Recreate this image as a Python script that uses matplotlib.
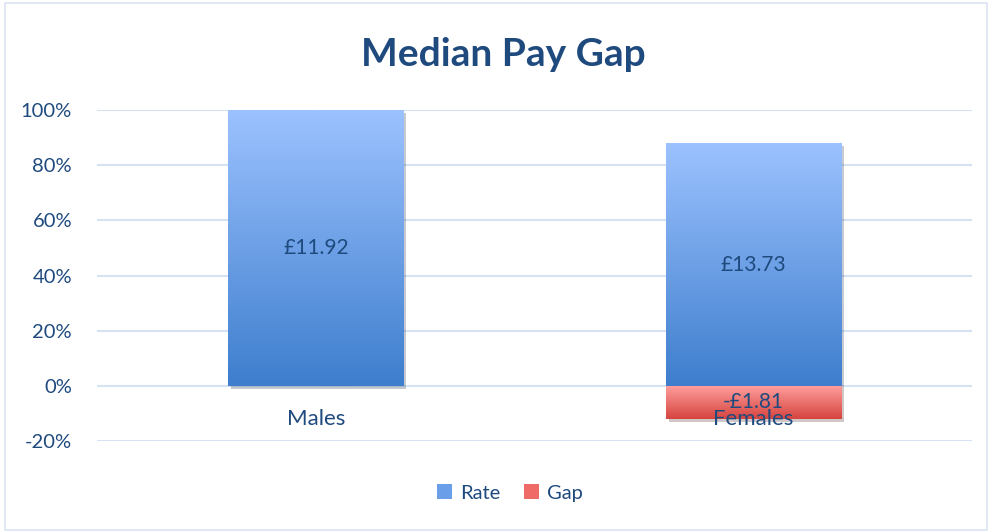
import numpy as np
import matplotlib
matplotlib.use("Agg")
import matplotlib.pyplot as plt
from matplotlib.colors import LinearSegmentedColormap
from matplotlib.patches import Rectangle, Patch
import matplotlib.patheffects as pe

plt.rcParams['font.family'] = ['Lato', 'DejaVu Sans']

# data
categories = ["Males", "Females"]
rate = [100, 88]
gap = [0, -12]
rate_labels = ["£11.92", "£13.73"]
gap_labels = ["", "-£1.81"]
yticks = [-20, 0, 20, 40, 60, 80, 100]

text_col = "#1F4A7E"
grid_col = "#D5E2F4"
blue_cmap = LinearSegmentedColormap.from_list("blue", ["#3E7ECD", "#9CC2FF"])
red_cmap = LinearSegmentedColormap.from_list("red", ["#D6443F", "#FFA09E"])

fig = plt.figure(figsize=(9.9, 5.32), dpi=100)
ax = fig.add_axes([0.098, 0.171, 0.884, 0.622])

x = np.arange(len(categories))
shadow = [pe.SimplePatchShadow(offset=(2, -2), alpha=0.25), pe.Normal()]
rate_bars = ax.bar(x, rate, width=0.4, color="#6A9EE8", zorder=2, path_effects=shadow)
gap_bars = ax.bar(x, gap, width=0.4, color="#EE6B67", zorder=2, path_effects=shadow)


def fill_gradient(bars, cmap):
    # paint a vertical gradient inside each bar (light at top)
    grad = np.linspace(0, 1, 256).reshape(-1, 1)
    for b in bars:
        if b.get_height() == 0:
            continue
        x0, w = b.get_x(), b.get_width()
        y0, h = b.get_y(), b.get_height()
        lo, hi = min(y0, y0 + h), max(y0, y0 + h)
        im = ax.imshow(grad, cmap=cmap, origin="lower", aspect="auto",
                       extent=[x0, x0 + w, lo, hi], zorder=3)
        im.set_clip_path(b)


fill_gradient(rate_bars, blue_cmap)
fill_gradient(gap_bars, red_cmap)

for i in range(len(categories)):
    ax.text(x[i], rate[i] / 2, rate_labels[i], ha="center", va="center",
            fontsize=15, color=text_col, zorder=5)
    if gap_labels[i]:
        ax.text(x[i], gap[i] / 2, gap_labels[i], ha="center", va="center",
                fontsize=15, color=text_col, zorder=5)
    # category labels sit just under the zero line, on top of the bars
    ax.annotate(categories[i], (x[i], 0), xytext=(0, -24), textcoords="offset points",
                ha="center", va="center", fontsize=16, color=text_col,
                zorder=6, annotation_clip=False)

ax.set_xlim(-0.5, 1.5)
ax.set_ylim(-20, 100)
ax.set_yticks(yticks)
ax.set_yticklabels([f"{t}%" for t in yticks])
ax.yaxis.grid(True, color=grid_col, linewidth=1.5, zorder=0)
ax.set_axisbelow(True)
ax.tick_params(axis="y", length=0, pad=18, labelsize=14.5, labelcolor=text_col)
ax.set_xticks([])
for s in ax.spines.values():
    s.set_visible(False)

fig.text(0.508, 0.897, "Median Pay Gap", ha="center", va="center",
         fontsize=28, fontweight="bold", color=text_col)

handles = [Patch(facecolor="#6A9EE8"), Patch(facecolor="#EE6B67")]
fig.legend(handles, ["Rate", "Gap"], loc="center", bbox_to_anchor=(0.515, 0.073),
           ncol=2, frameon=False, fontsize=14.5, labelcolor=text_col,
           handlelength=0.75, handleheight=0.75, handletextpad=0.4, columnspacing=1.2)

fig.patches.append(Rectangle((0.005, 0.004), 0.992, 0.99, transform=fig.transFigure,
                             fill=False, edgecolor="#D9E4F2", linewidth=1.2))

fig.savefig("out.png", dpi=100)
